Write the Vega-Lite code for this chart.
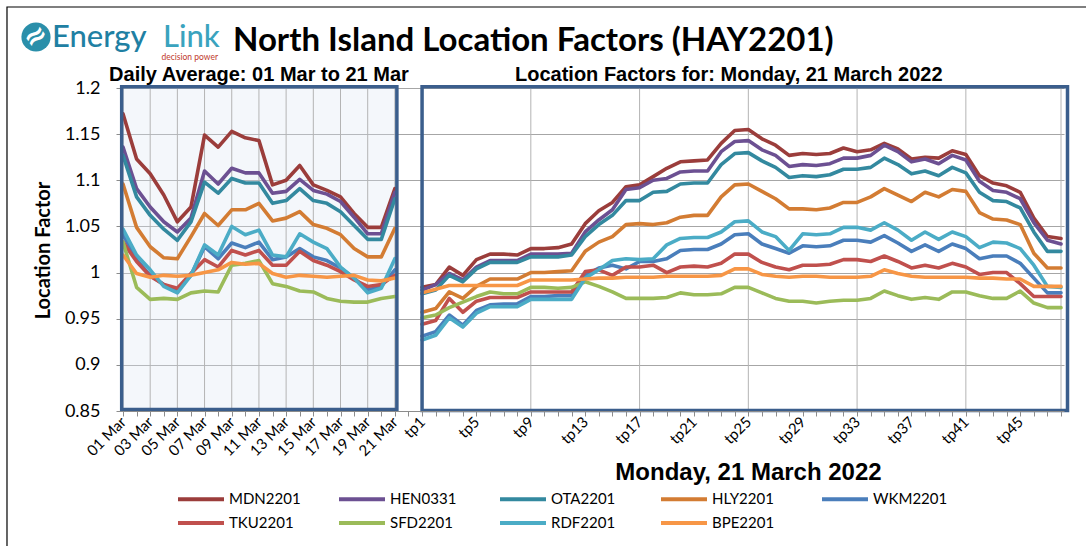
{
"$schema": "https://vega.github.io/schema/vega-lite/v6.json",
"autosize": {"type": "none"},
"padding": {"left": 120, "top": 88, "right": 22, "bottom": 135},
"width": 944,
"height": 323,
"background": "white",
"config": {"view": {"stroke": null}},
"datasets": {
"lf": [
{"x":"01 Mar","p":"a","MDN2201":1.172,"HEN0331":1.136,"OTA2201":1.127,"HLY2201":1.096,"WKM2201":1.041,"TKU2201":1.033,"SFD2201":1.033,"RDF2201":1.047,"BPE2201":1.019},
{"x":"02 Mar","p":"a","MDN2201":1.123,"HEN0331":1.091,"OTA2201":1.082,"HLY2201":1.049,"WKM2201":1.014,"TKU2201":1.012,"SFD2201":0.984,"RDF2201":1.019,"BPE2201":0.999},
{"x":"03 Mar","p":"a","MDN2201":1.107,"HEN0331":1.071,"OTA2201":1.062,"HLY2201":1.028,"WKM2201":0.997,"TKU2201":0.996,"SFD2201":0.971,"RDF2201":1.003,"BPE2201":0.995},
{"x":"04 Mar","p":"a","MDN2201":1.084,"HEN0331":1.055,"OTA2201":1.047,"HLY2201":1.016,"WKM2201":0.987,"TKU2201":0.987,"SFD2201":0.972,"RDF2201":0.985,"BPE2201":0.997},
{"x":"05 Mar","p":"a","MDN2201":1.055,"HEN0331":1.044,"OTA2201":1.035,"HLY2201":1.015,"WKM2201":0.981,"TKU2201":0.983,"SFD2201":0.971,"RDF2201":0.978,"BPE2201":0.996},
{"x":"06 Mar","p":"a","MDN2201":1.071,"HEN0331":1.059,"OTA2201":1.055,"HLY2201":1.039,"WKM2201":0.997,"TKU2201":0.999,"SFD2201":0.978,"RDF2201":0.997,"BPE2201":0.997},
{"x":"07 Mar","p":"a","MDN2201":1.149,"HEN0331":1.110,"OTA2201":1.098,"HLY2201":1.064,"WKM2201":1.028,"TKU2201":1.014,"SFD2201":0.980,"RDF2201":1.030,"BPE2201":1.000},
{"x":"08 Mar","p":"a","MDN2201":1.136,"HEN0331":1.096,"OTA2201":1.086,"HLY2201":1.051,"WKM2201":1.015,"TKU2201":1.006,"SFD2201":0.979,"RDF2201":1.019,"BPE2201":1.003},
{"x":"09 Mar","p":"a","MDN2201":1.153,"HEN0331":1.113,"OTA2201":1.102,"HLY2201":1.068,"WKM2201":1.032,"TKU2201":1.024,"SFD2201":1.008,"RDF2201":1.050,"BPE2201":1.011},
{"x":"10 Mar","p":"a","MDN2201":1.146,"HEN0331":1.108,"OTA2201":1.097,"HLY2201":1.068,"WKM2201":1.027,"TKU2201":1.019,"SFD2201":1.010,"RDF2201":1.041,"BPE2201":1.009},
{"x":"11 Mar","p":"a","MDN2201":1.143,"HEN0331":1.108,"OTA2201":1.097,"HLY2201":1.075,"WKM2201":1.033,"TKU2201":1.024,"SFD2201":1.013,"RDF2201":1.046,"BPE2201":1.010},
{"x":"12 Mar","p":"a","MDN2201":1.095,"HEN0331":1.086,"OTA2201":1.075,"HLY2201":1.056,"WKM2201":1.014,"TKU2201":1.008,"SFD2201":0.988,"RDF2201":1.019,"BPE2201":0.999},
{"x":"13 Mar","p":"a","MDN2201":1.100,"HEN0331":1.088,"OTA2201":1.078,"HLY2201":1.059,"WKM2201":1.017,"TKU2201":1.008,"SFD2201":0.985,"RDF2201":1.017,"BPE2201":0.995},
{"x":"14 Mar","p":"a","MDN2201":1.116,"HEN0331":1.101,"OTA2201":1.091,"HLY2201":1.066,"WKM2201":1.026,"TKU2201":1.023,"SFD2201":0.980,"RDF2201":1.042,"BPE2201":0.997},
{"x":"15 Mar","p":"a","MDN2201":1.095,"HEN0331":1.089,"OTA2201":1.078,"HLY2201":1.052,"WKM2201":1.017,"TKU2201":1.013,"SFD2201":0.979,"RDF2201":1.033,"BPE2201":0.996},
{"x":"16 Mar","p":"a","MDN2201":1.089,"HEN0331":1.085,"OTA2201":1.075,"HLY2201":1.048,"WKM2201":1.013,"TKU2201":1.008,"SFD2201":0.972,"RDF2201":1.026,"BPE2201":0.995},
{"x":"17 Mar","p":"a","MDN2201":1.082,"HEN0331":1.077,"OTA2201":1.066,"HLY2201":1.041,"WKM2201":1.005,"TKU2201":1.001,"SFD2201":0.969,"RDF2201":1.006,"BPE2201":0.996},
{"x":"18 Mar","p":"a","MDN2201":1.064,"HEN0331":1.060,"OTA2201":1.051,"HLY2201":1.026,"WKM2201":0.994,"TKU2201":0.992,"SFD2201":0.968,"RDF2201":0.994,"BPE2201":0.997},
{"x":"19 Mar","p":"a","MDN2201":1.049,"HEN0331":1.042,"OTA2201":1.036,"HLY2201":1.017,"WKM2201":0.981,"TKU2201":0.985,"SFD2201":0.968,"RDF2201":0.978,"BPE2201":0.992},
{"x":"20 Mar","p":"a","MDN2201":1.049,"HEN0331":1.042,"OTA2201":1.036,"HLY2201":1.017,"WKM2201":0.985,"TKU2201":0.987,"SFD2201":0.972,"RDF2201":0.983,"BPE2201":0.991},
{"x":"21 Mar","p":"a","MDN2201":1.091,"HEN0331":1.087,"OTA2201":1.080,"HLY2201":1.048,"WKM2201":1.003,"TKU2201":0.997,"SFD2201":0.974,"RDF2201":1.015,"BPE2201":0.994},
{"x":"tp1","p":"b","MDN2201":0.984,"HEN0331":0.981,"OTA2201":0.977,"HLY2201":0.957,"WKM2201":0.931,"TKU2201":0.944,"SFD2201":0.951,"RDF2201":0.927,"BPE2201":0.978},
{"x":"tp2","p":"b","MDN2201":0.987,"HEN0331":0.987,"OTA2201":0.981,"HLY2201":0.961,"WKM2201":0.936,"TKU2201":0.948,"SFD2201":0.954,"RDF2201":0.932,"BPE2201":0.982},
{"x":"tp3","p":"b","MDN2201":1.006,"HEN0331":0.999,"OTA2201":0.997,"HLY2201":0.979,"WKM2201":0.954,"TKU2201":0.972,"SFD2201":0.962,"RDF2201":0.951,"BPE2201":0.986},
{"x":"tp4","p":"b","MDN2201":0.997,"HEN0331":0.992,"OTA2201":0.990,"HLY2201":0.972,"WKM2201":0.943,"TKU2201":0.957,"SFD2201":0.968,"RDF2201":0.941,"BPE2201":0.986},
{"x":"tp5","p":"b","MDN2201":1.014,"HEN0331":1.006,"OTA2201":1.004,"HLY2201":0.985,"WKM2201":0.959,"TKU2201":0.969,"SFD2201":0.974,"RDF2201":0.956,"BPE2201":0.986},
{"x":"tp6","p":"b","MDN2201":1.020,"HEN0331":1.013,"OTA2201":1.011,"HLY2201":0.993,"WKM2201":0.965,"TKU2201":0.973,"SFD2201":0.979,"RDF2201":0.963,"BPE2201":0.986},
{"x":"tp7","p":"b","MDN2201":1.020,"HEN0331":1.013,"OTA2201":1.011,"HLY2201":0.993,"WKM2201":0.966,"TKU2201":0.973,"SFD2201":0.977,"RDF2201":0.963,"BPE2201":0.986},
{"x":"tp8","p":"b","MDN2201":1.019,"HEN0331":1.013,"OTA2201":1.011,"HLY2201":0.993,"WKM2201":0.966,"TKU2201":0.973,"SFD2201":0.977,"RDF2201":0.963,"BPE2201":0.986},
{"x":"tp9","p":"b","MDN2201":1.026,"HEN0331":1.020,"OTA2201":1.017,"HLY2201":1.000,"WKM2201":0.974,"TKU2201":0.979,"SFD2201":0.984,"RDF2201":0.971,"BPE2201":0.992},
{"x":"tp10","p":"b","MDN2201":1.026,"HEN0331":1.020,"OTA2201":1.017,"HLY2201":1.000,"WKM2201":0.974,"TKU2201":0.979,"SFD2201":0.984,"RDF2201":0.971,"BPE2201":0.992},
{"x":"tp11","p":"b","MDN2201":1.027,"HEN0331":1.020,"OTA2201":1.017,"HLY2201":1.001,"WKM2201":0.975,"TKU2201":0.979,"SFD2201":0.983,"RDF2201":0.971,"BPE2201":0.992},
{"x":"tp12","p":"b","MDN2201":1.031,"HEN0331":1.021,"OTA2201":1.019,"HLY2201":1.002,"WKM2201":0.975,"TKU2201":0.979,"SFD2201":0.984,"RDF2201":0.971,"BPE2201":0.992},
{"x":"tp13","p":"b","MDN2201":1.053,"HEN0331":1.044,"OTA2201":1.039,"HLY2201":1.023,"WKM2201":0.997,"TKU2201":1.001,"SFD2201":0.990,"RDF2201":0.994,"BPE2201":0.993},
{"x":"tp14","p":"b","MDN2201":1.067,"HEN0331":1.057,"OTA2201":1.052,"HLY2201":1.033,"WKM2201":1.005,"TKU2201":1.003,"SFD2201":0.985,"RDF2201":1.003,"BPE2201":0.994},
{"x":"tp15","p":"b","MDN2201":1.076,"HEN0331":1.068,"OTA2201":1.062,"HLY2201":1.039,"WKM2201":1.008,"TKU2201":0.997,"SFD2201":0.979,"RDF2201":1.013,"BPE2201":0.994},
{"x":"tp16","p":"b","MDN2201":1.093,"HEN0331":1.090,"OTA2201":1.078,"HLY2201":1.052,"WKM2201":1.004,"TKU2201":1.006,"SFD2201":0.972,"RDF2201":1.015,"BPE2201":0.995},
{"x":"tp17","p":"b","MDN2201":1.095,"HEN0331":1.092,"OTA2201":1.078,"HLY2201":1.053,"WKM2201":1.012,"TKU2201":1.006,"SFD2201":0.972,"RDF2201":1.014,"BPE2201":0.995},
{"x":"tp18","p":"b","MDN2201":1.104,"HEN0331":1.100,"OTA2201":1.087,"HLY2201":1.052,"WKM2201":1.012,"TKU2201":1.008,"SFD2201":0.972,"RDF2201":1.015,"BPE2201":0.995},
{"x":"tp19","p":"b","MDN2201":1.113,"HEN0331":1.102,"OTA2201":1.088,"HLY2201":1.054,"WKM2201":1.015,"TKU2201":1.000,"SFD2201":0.973,"RDF2201":1.030,"BPE2201":0.996},
{"x":"tp20","p":"b","MDN2201":1.120,"HEN0331":1.109,"OTA2201":1.096,"HLY2201":1.060,"WKM2201":1.024,"TKU2201":1.006,"SFD2201":0.978,"RDF2201":1.037,"BPE2201":0.996},
{"x":"tp21","p":"b","MDN2201":1.121,"HEN0331":1.110,"OTA2201":1.097,"HLY2201":1.062,"WKM2201":1.025,"TKU2201":1.007,"SFD2201":0.976,"RDF2201":1.038,"BPE2201":0.996},
{"x":"tp22","p":"b","MDN2201":1.122,"HEN0331":1.110,"OTA2201":1.097,"HLY2201":1.062,"WKM2201":1.025,"TKU2201":1.006,"SFD2201":0.976,"RDF2201":1.038,"BPE2201":0.996},
{"x":"tp23","p":"b","MDN2201":1.140,"HEN0331":1.131,"OTA2201":1.117,"HLY2201":1.082,"WKM2201":1.031,"TKU2201":1.010,"SFD2201":0.977,"RDF2201":1.044,"BPE2201":0.997},
{"x":"tp24","p":"b","MDN2201":1.154,"HEN0331":1.142,"OTA2201":1.129,"HLY2201":1.095,"WKM2201":1.041,"TKU2201":1.020,"SFD2201":0.984,"RDF2201":1.055,"BPE2201":1.004},
{"x":"tp25","p":"b","MDN2201":1.155,"HEN0331":1.143,"OTA2201":1.130,"HLY2201":1.096,"WKM2201":1.042,"TKU2201":1.020,"SFD2201":0.984,"RDF2201":1.056,"BPE2201":1.004},
{"x":"tp26","p":"b","MDN2201":1.145,"HEN0331":1.133,"OTA2201":1.121,"HLY2201":1.088,"WKM2201":1.031,"TKU2201":1.011,"SFD2201":0.978,"RDF2201":1.044,"BPE2201":0.998},
{"x":"tp27","p":"b","MDN2201":1.138,"HEN0331":1.127,"OTA2201":1.114,"HLY2201":1.080,"WKM2201":1.026,"TKU2201":1.006,"SFD2201":0.972,"RDF2201":1.039,"BPE2201":0.996},
{"x":"tp28","p":"b","MDN2201":1.127,"HEN0331":1.115,"OTA2201":1.103,"HLY2201":1.069,"WKM2201":1.021,"TKU2201":1.003,"SFD2201":0.969,"RDF2201":1.024,"BPE2201":0.995},
{"x":"tp29","p":"b","MDN2201":1.129,"HEN0331":1.117,"OTA2201":1.105,"HLY2201":1.069,"WKM2201":1.029,"TKU2201":1.008,"SFD2201":0.969,"RDF2201":1.042,"BPE2201":0.996},
{"x":"tp30","p":"b","MDN2201":1.128,"HEN0331":1.116,"OTA2201":1.104,"HLY2201":1.068,"WKM2201":1.028,"TKU2201":1.008,"SFD2201":0.967,"RDF2201":1.041,"BPE2201":0.996},
{"x":"tp31","p":"b","MDN2201":1.129,"HEN0331":1.118,"OTA2201":1.106,"HLY2201":1.070,"WKM2201":1.029,"TKU2201":1.009,"SFD2201":0.969,"RDF2201":1.042,"BPE2201":0.995},
{"x":"tp32","p":"b","MDN2201":1.135,"HEN0331":1.124,"OTA2201":1.112,"HLY2201":1.076,"WKM2201":1.035,"TKU2201":1.014,"SFD2201":0.970,"RDF2201":1.049,"BPE2201":0.995},
{"x":"tp33","p":"b","MDN2201":1.131,"HEN0331":1.124,"OTA2201":1.112,"HLY2201":1.076,"WKM2201":1.035,"TKU2201":1.014,"SFD2201":0.970,"RDF2201":1.049,"BPE2201":0.995},
{"x":"tp34","p":"b","MDN2201":1.133,"HEN0331":1.127,"OTA2201":1.114,"HLY2201":1.082,"WKM2201":1.033,"TKU2201":1.012,"SFD2201":0.972,"RDF2201":1.046,"BPE2201":0.996},
{"x":"tp35","p":"b","MDN2201":1.140,"HEN0331":1.138,"OTA2201":1.124,"HLY2201":1.091,"WKM2201":1.040,"TKU2201":1.018,"SFD2201":0.980,"RDF2201":1.054,"BPE2201":1.003},
{"x":"tp36","p":"b","MDN2201":1.134,"HEN0331":1.131,"OTA2201":1.117,"HLY2201":1.084,"WKM2201":1.032,"TKU2201":1.012,"SFD2201":0.975,"RDF2201":1.046,"BPE2201":0.999},
{"x":"tp37","p":"b","MDN2201":1.123,"HEN0331":1.120,"OTA2201":1.107,"HLY2201":1.077,"WKM2201":1.023,"TKU2201":1.005,"SFD2201":0.971,"RDF2201":1.035,"BPE2201":0.996},
{"x":"tp38","p":"b","MDN2201":1.125,"HEN0331":1.123,"OTA2201":1.110,"HLY2201":1.087,"WKM2201":1.030,"TKU2201":1.008,"SFD2201":0.973,"RDF2201":1.044,"BPE2201":0.995},
{"x":"tp39","p":"b","MDN2201":1.124,"HEN0331":1.118,"OTA2201":1.105,"HLY2201":1.082,"WKM2201":1.023,"TKU2201":1.005,"SFD2201":0.971,"RDF2201":1.036,"BPE2201":0.995},
{"x":"tp40","p":"b","MDN2201":1.132,"HEN0331":1.127,"OTA2201":1.114,"HLY2201":1.090,"WKM2201":1.031,"TKU2201":1.010,"SFD2201":0.979,"RDF2201":1.044,"BPE2201":0.995},
{"x":"tp41","p":"b","MDN2201":1.128,"HEN0331":1.122,"OTA2201":1.108,"HLY2201":1.088,"WKM2201":1.026,"TKU2201":1.006,"SFD2201":0.979,"RDF2201":1.039,"BPE2201":0.995},
{"x":"tp42","p":"b","MDN2201":1.105,"HEN0331":1.099,"OTA2201":1.087,"HLY2201":1.065,"WKM2201":1.015,"TKU2201":0.998,"SFD2201":0.975,"RDF2201":1.027,"BPE2201":0.994},
{"x":"tp43","p":"b","MDN2201":1.097,"HEN0331":1.089,"OTA2201":1.078,"HLY2201":1.058,"WKM2201":1.018,"TKU2201":1.000,"SFD2201":0.972,"RDF2201":1.033,"BPE2201":0.994},
{"x":"tp44","p":"b","MDN2201":1.094,"HEN0331":1.087,"OTA2201":1.077,"HLY2201":1.057,"WKM2201":1.018,"TKU2201":1.000,"SFD2201":0.972,"RDF2201":1.032,"BPE2201":0.993},
{"x":"tp45","p":"b","MDN2201":1.087,"HEN0331":1.080,"OTA2201":1.070,"HLY2201":1.052,"WKM2201":1.010,"TKU2201":0.988,"SFD2201":0.980,"RDF2201":1.026,"BPE2201":0.993},
{"x":"tp46","p":"b","MDN2201":1.059,"HEN0331":1.054,"OTA2201":1.044,"HLY2201":1.021,"WKM2201":0.994,"TKU2201":0.974,"SFD2201":0.967,"RDF2201":1.008,"BPE2201":0.985},
{"x":"tp47","p":"b","MDN2201":1.039,"HEN0331":1.035,"OTA2201":1.023,"HLY2201":1.005,"WKM2201":0.978,"TKU2201":0.974,"SFD2201":0.962,"RDF2201":0.985,"BPE2201":0.985},
{"x":"tp48","p":"b","MDN2201":1.037,"HEN0331":1.031,"OTA2201":1.023,"HLY2201":1.005,"WKM2201":0.978,"TKU2201":0.974,"SFD2201":0.962,"RDF2201":0.984,"BPE2201":0.985}
],
"vgrid": [{"x":"01 Mar"},{"x":"03 Mar"},{"x":"05 Mar"},{"x":"07 Mar"},{"x":"09 Mar"},{"x":"11 Mar"},{"x":"13 Mar"},{"x":"15 Mar"},{"x":"17 Mar"},{"x":"19 Mar"},{"x":"21 Mar"},{"x":"tp1"},{"x":"tp9"},{"x":"tp17"},{"x":"tp25"},{"x":"tp33"},{"x":"tp41"},{"x":"tp48"}]
},
"layer": [
{
"data": {"values": [{"a": "01 Mar", "b": "21 Mar"}]},
"mark": {"type": "rect", "fill": "#DCE6F2", "fillOpacity": 0.3, "xOffset": -1.3, "x2Offset": 2},
"encoding": {
"x": {"field": "a", "type": "nominal",
"scale": {"type": "point", "padding": 0.22, "domain": ["01 Mar","02 Mar","03 Mar","04 Mar","05 Mar","06 Mar","07 Mar","08 Mar","09 Mar","10 Mar","11 Mar","12 Mar","13 Mar","14 Mar","15 Mar","16 Mar","17 Mar","18 Mar","19 Mar","20 Mar","21 Mar"," ","tp1","tp2","tp3","tp4","tp5","tp6","tp7","tp8","tp9","tp10","tp11","tp12","tp13","tp14","tp15","tp16","tp17","tp18","tp19","tp20","tp21","tp22","tp23","tp24","tp25","tp26","tp27","tp28","tp29","tp30","tp31","tp32","tp33","tp34","tp35","tp36","tp37","tp38","tp39","tp40","tp41","tp42","tp43","tp44","tp45","tp46","tp47","tp48"]},
"axis": {
"title": "Monday, 21 March 2022", "titleFont": "Liberation Sans", "titleFontSize": 24, "titleFontWeight": "bold", "titleColor": "#000000",
"titleX": 628, "titleY": 68, "titleAlign": "center", "titleBaseline": "alphabetic", "titleAngle": 0,
"labelExpr": "indexof(['01 Mar','03 Mar','05 Mar','07 Mar','09 Mar','11 Mar','13 Mar','15 Mar','17 Mar','19 Mar','21 Mar','tp1','tp5','tp9','tp13','tp17','tp21','tp25','tp29','tp33','tp37','tp41','tp45'], datum.value) >= 0 ? datum.value : ''",
"labelAngle": -45, "labelAlign": "right", "labelBaseline": "middle", "labelFont": "Lato", "labelFontSize": 15, "labelColor": "#000000",
"labelOverlap": false, "labelPadding": 3, "labelBound": false, "labelFlush": false,
"ticks": true, "tickSize": 5, "tickColor": "#8c8c8c", "domainColor": "#8c8c8c", "grid": false
}},
"x2": {"field": "b"},
"y": {"datum": 1.2, "type": "quantitative",
"scale": {"domain": [0.85, 1.2], "nice": false, "zero": false},
"axis": {
"title": "Location Factor", "titleFont": "Lato", "titleFontSize": 20, "titleFontWeight": "bold", "titleColor": "#000000",
"titleX": -77, "titleY": 162, "titleAngle": -90, "titleAlign": "center", "titleBaseline": "middle",
"values": [0.85, 0.9, 0.95, 1, 1.05, 1.1, 1.15, 1.2], "format": "~g",
"labelFont": "Lato", "labelFontSize": 18, "labelColor": "#000000", "labelPadding": 16,
"tickSize": 4, "tickColor": "#8c8c8c", "domainColor": "#8c8c8c",
"grid": true, "gridColor": "#a6a6a6", "gridWidth": 1
}},
"y2": {"datum": 0.85}
}
},
{
"data": {"name": "vgrid"},
"mark": {"type": "rule", "color": "#b4b4b4", "strokeWidth": 1},
"encoding": {
"x": {"field": "x", "type": "nominal"},
"y": {"datum": 1.2, "type": "quantitative"},
"y2": {"datum": 0.85}
}
},
{
"data": {"name": "lf"},
"transform": [{"fold": ["MDN2201","HEN0331","OTA2201","HLY2201","WKM2201","TKU2201","SFD2201","RDF2201","BPE2201"], "as": ["s", "v"]}],
"mark": {"type": "line", "strokeWidth": 3.6, "strokeJoin": "round", "strokeCap": "round"},
"encoding": {
"x": {"field": "x", "type": "nominal"},
"y": {"field": "v", "type": "quantitative"},
"detail": {"field": "p"},
"color": {"field": "s", "type": "nominal",
"scale": {"domain": ["MDN2201","HEN0331","OTA2201","HLY2201","WKM2201","TKU2201","SFD2201","RDF2201","BPE2201"],
"range": ["#9B3D3B","#6C5092","#33899F","#D37C33","#4A7EBB","#C0504D","#9BBB59","#4BACC6","#F79646"]},
"legend": {"orient": "none", "legendX": 67.5, "legendY": 397.5, "direction": "horizontal", "columns": 5, "title": null,
"symbolType": "M-2,0H2", "symbolSize": 529, "symbolStrokeWidth": 4, "symbolFillColor": "transparent", "labelFont": "Lato", "labelFontSize": 15, "labelColor": "#000000",
"labelOffset": 14.5, "columnPadding": 27, "rowPadding": 2, "gridAlign": "all", "padding": 0}}
}
},
{
"data": {"values": [{"a": "01 Mar", "b": "21 Mar"}]},
"mark": {"type": "rect", "filled": false, "stroke": "#3B5E8C", "strokeWidth": 3.5, "xOffset": -1.3, "x2Offset": 2, "yOffset": -1.3, "y2Offset": -1.5},
"encoding": {"x": {"field": "a", "type": "nominal"}, "x2": {"field": "b"}, "y": {"datum": 1.2, "type": "quantitative"}, "y2": {"datum": 0.85}}
},
{
"data": {"values": [{"a": "tp1", "b": "tp48"}]},
"mark": {"type": "rect", "filled": false, "stroke": "#3B5E8C", "strokeWidth": 3.5, "xOffset": 0, "x2Offset": 6.5, "yOffset": -1.3, "y2Offset": -0.5},
"encoding": {"x": {"field": "a", "type": "nominal"}, "x2": {"field": "b"}, "y": {"datum": 1.2, "type": "quantitative"}, "y2": {"datum": 0.85}}
},
{
"data": {"values": [{"a": "01 Mar", "b": "tp48"}]},
"mark": {"type": "rect", "filled": false, "stroke": "#000000", "strokeWidth": 1.2, "xOffset": -116, "x2Offset": 40, "yOffset": -81, "y2Offset": 150},
"encoding": {"x": {"field": "a", "type": "nominal"}, "x2": {"field": "b"}, "y": {"datum": 1.2, "type": "quantitative"}, "y2": {"datum": 0.85}}
},
{
"data": {"values": [{"x": "11 Mar", "t": "Daily Average: 01 Mar to 21 Mar"}]},
"mark": {"type": "text", "font": "Liberation Sans", "fontSize": 20, "fontWeight": "bold", "color": "#000000", "align": "center", "baseline": "alphabetic", "dy": -7},
"encoding": {"x": {"field": "x", "type": "nominal"}, "y": {"datum": 1.2, "type": "quantitative"}, "text": {"field": "t"}}
},
{
"data": {"values": [{"x": "tp24", "t": "Location Factors for: Monday, 21 March 2022"}]},
"mark": {"type": "text", "font": "Liberation Sans", "fontSize": 20, "fontWeight": "bold", "color": "#000000", "align": "center", "baseline": "alphabetic", "dx": -6, "dy": -7},
"encoding": {"x": {"field": "x", "type": "nominal"}, "y": {"datum": 1.2, "type": "quantitative"}, "text": {"field": "t"}}
},
{
"data": {"values": [{"x": "01 Mar", "t": "North Island Location Factors (HAY2201)"}]},
"mark": {"type": "text", "font": "Lato", "fontSize": 33, "fontWeight": "bold", "color": "#000000", "align": "left", "baseline": "alphabetic", "dx": 110, "dy": -37},
"encoding": {"x": {"field": "x", "type": "nominal"}, "y": {"datum": 1.2, "type": "quantitative"}, "text": {"field": "t"}}
},
{
"data": {"values": [{"x": "01 Mar", "t": "Energy"}]},
"mark": {"type": "text", "font": "Lato", "fontSize": 31, "fontWeight": 500, "color": "#1F80A3", "align": "left", "baseline": "alphabetic", "dx": -71, "dy": -41},
"encoding": {"x": {"field": "x", "type": "nominal"}, "y": {"datum": 1.2, "type": "quantitative"}, "text": {"field": "t"}}
},
{
"data": {"values": [{"x": "01 Mar", "t": "Link"}]},
"mark": {"type": "text", "font": "Lato", "fontSize": 31, "fontWeight": 500, "color": "#3AA3BE", "align": "left", "baseline": "alphabetic", "dx": 40, "dy": -41},
"encoding": {"x": {"field": "x", "type": "nominal"}, "y": {"datum": 1.2, "type": "quantitative"}, "text": {"field": "t"}}
},
{
"data": {"values": [{"x": "01 Mar", "t": "decision power"}]},
"mark": {"type": "text", "font": "Lato", "fontSize": 8.5, "color": "#C0392B", "align": "right", "baseline": "alphabetic", "dx": 95, "dy": -28},
"encoding": {"x": {"field": "x", "type": "nominal"}, "y": {"datum": 1.2, "type": "quantitative"}, "text": {"field": "t"}}
},
{
"data": {"values": [{"x": "01 Mar"}]},
"mark": {"type": "point", "shape": "circle", "filled": true, "color": "#2A8FAA", "opacity": 1, "size": 850, "xOffset": -87, "yOffset": -51},
"encoding": {"x": {"field": "x", "type": "nominal"}, "y": {"datum": 1.2, "type": "quantitative"}}
},
{
"data": {"values": [{"x": "01 Mar", "t": "≈"}]},
"mark": {"type": "text", "font": "DejaVu Sans", "fontSize": 28, "fontWeight": "bold", "color": "#ffffff", "align": "center", "baseline": "middle", "angle": -35, "dx": -42, "dy": -91.7},
"encoding": {"x": {"field": "x", "type": "nominal"}, "y": {"datum": 1.2, "type": "quantitative"}, "text": {"field": "t"}}
}
]
}
